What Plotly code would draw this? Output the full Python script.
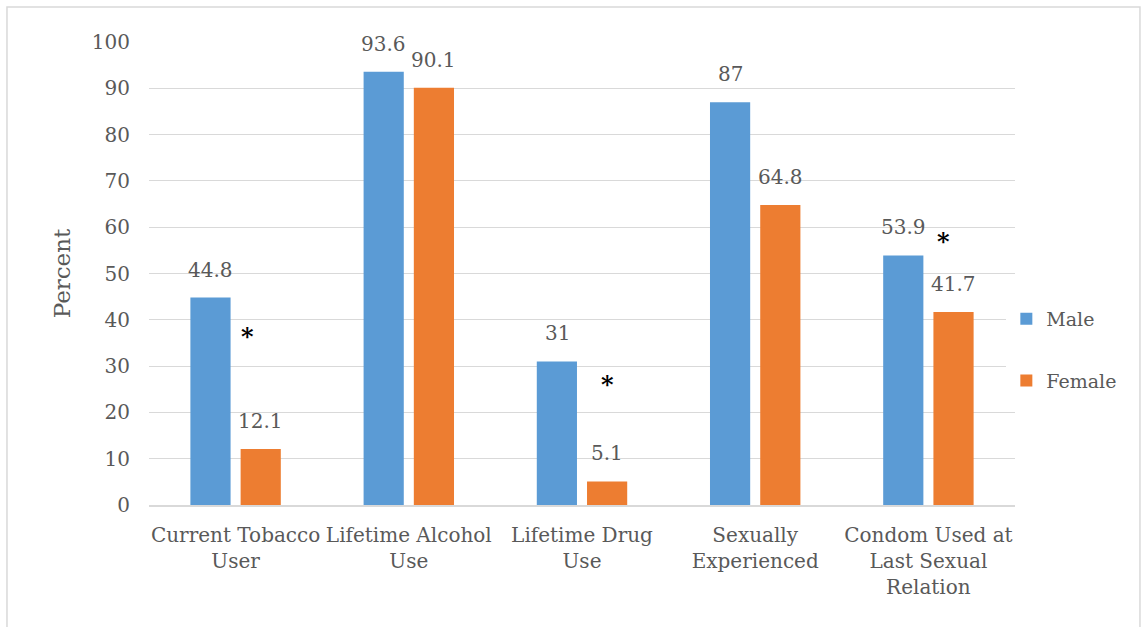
import plotly.graph_objects as go

categories = ["Current Tobacco<br>User", "Lifetime Alcohol<br>Use", "Lifetime Drug<br>Use",
              "Sexually<br>Experienced", "Condom Used at<br>Last Sexual<br>Relation"]
male = [44.8, 93.6, 31, 87, 53.9]
female = [12.1, 90.1, 5.1, 64.8, 41.7]
male_labels = ["44.8", "93.6", "31", "87", "53.9"]
female_labels = ["12.1", "90.1", "5.1", "64.8", "41.7"]
star_idx = [0, 2, 4]
star_dx = [0.07, 0.15, 0.09]
star_y = [36.3, 26.0, 57.0]

FONT = "DejaVu Serif"
GREY = "#595959"
FS = 20
BAR_OFF = 0.144

fig = go.Figure()
fig.add_trace(go.Bar(name="Male", x=categories, y=male, marker_color="#5b9bd5",
                     marker_line_width=0, legendgroup="m"))
fig.add_trace(go.Bar(name="Female", x=categories, y=female, marker_color="#ed7d31",
                     marker_line_width=0, legendgroup="f"))

for i, (vm, vf, lm, lf) in enumerate(zip(male, female, male_labels, female_labels)):
    fig.add_annotation(x=i - BAR_OFF, y=vm, text=lm, showarrow=False,
                       yanchor="bottom", yshift=14,
                       font=dict(family=FONT, size=FS, color=GREY))
    fig.add_annotation(x=i + BAR_OFF, y=vf, text=lf, showarrow=False,
                       yanchor="bottom", yshift=14,
                       font=dict(family=FONT, size=FS, color=GREY))

for i, dx, yy in zip(star_idx, star_dx, star_y):
    fig.add_annotation(x=i + dx, y=yy, text="<b>*</b>", showarrow=False,
                       font=dict(family=FONT, size=24, color="black"))

# outer border
fig.add_shape(type="rect", xref="paper", yref="paper",
              x0=-0.164, x1=1.1443, y0=-0.3, y1=1.0756,
              line=dict(color="#d9d9d9", width=1.5), layer="below")

fig.update_layout(
    width=1143, height=627,
    margin=dict(l=149, r=128, t=42, b=122),
    paper_bgcolor="white", plot_bgcolor="white",
    barmode="group", bargap=0.42, bargroupgap=0.2,
    font=dict(family=FONT, color=GREY, size=FS),
    legend=dict(x=0.99, y=0.335, xanchor="left", yanchor="middle",
                font=dict(family=FONT, size=19, color=GREY),
                itemwidth=30, tracegroupgap=34, traceorder="grouped"),
    yaxis=dict(range=[0, 100], dtick=10, showgrid=True, gridcolor="#d9d9d9",
               gridwidth=1, zeroline=False, ticks="", ticklen=0,
               ticklabelstandoff=18,
               tickfont=dict(family=FONT, size=FS, color=GREY),
               title=dict(text="Percent", font=dict(family=FONT, size=23, color=GREY),
                          standoff=14)),
    xaxis=dict(showline=True, linecolor="#d9d9d9", linewidth=1.5, ticks="",
               ticklabelstandoff=11,
               tickfont=dict(family=FONT, size=FS, color=GREY)),
)

fig.write_html("out.html")
